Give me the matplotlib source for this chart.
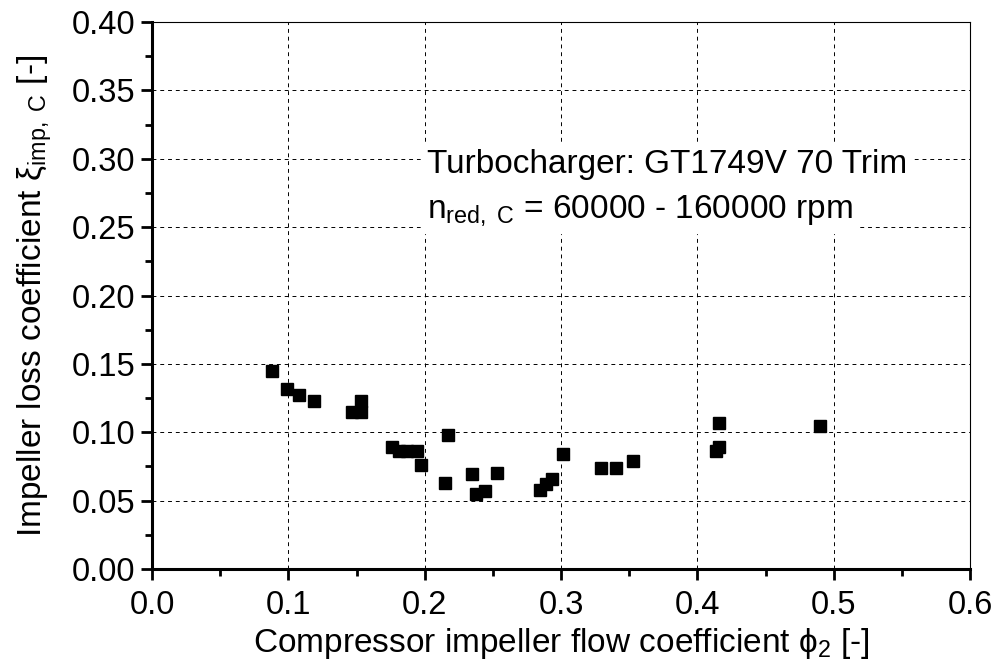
import matplotlib
matplotlib.use('Agg')
import matplotlib.pyplot as plt
from matplotlib.ticker import MultipleLocator

plt.rcParams['font.family'] = ['Liberation Sans', 'DejaVu Sans']
plt.rcParams['mathtext.fontset'] = 'custom'
plt.rcParams['mathtext.rm'] = 'Liberation Sans'
plt.rcParams['mathtext.it'] = 'Liberation Sans:italic'
plt.rcParams['mathtext.sf'] = 'Liberation Sans'

# flow coefficient phi_2 and impeller loss coefficient xi
phi2 = [0.088, 0.099, 0.108, 0.119, 0.1465, 0.1535, 0.1535,
        0.176, 0.181, 0.187, 0.194, 0.197, 0.217, 0.2145,
        0.2345, 0.2375, 0.2445, 0.253, 0.2845, 0.289, 0.293,
        0.3015, 0.3295, 0.3405, 0.3525, 0.4155, 0.4155, 0.4135, 0.490]
xi = [0.145, 0.132, 0.127, 0.123, 0.115, 0.1225, 0.1145,
      0.0895, 0.086, 0.086, 0.086, 0.076, 0.098, 0.063,
      0.0695, 0.0545, 0.057, 0.0705, 0.058, 0.0625, 0.066,
      0.084, 0.074, 0.074, 0.079, 0.1065, 0.0895, 0.0865, 0.1045]

x_ticks = [0.0, 0.1, 0.2, 0.3, 0.4, 0.5, 0.6]
y_ticks = [0.00, 0.05, 0.10, 0.15, 0.20, 0.25, 0.30, 0.35, 0.40]

fs = 23.5

fig = plt.figure(figsize=(9.94, 6.69), dpi=100)
ax = fig.add_axes([0.153, 0.1495, 0.823, 0.8175])

ax.plot(phi2, xi, 's', color='black', ms=8.5, mec='black', zorder=3)

ax.set_xlim(0, 0.6)
ax.set_ylim(0, 0.4)
ax.set_xticks(x_ticks)
ax.set_yticks(y_ticks)
ax.set_xticklabels(['%.1f' % v for v in x_ticks])
ax.set_yticklabels(['%.2f' % v for v in y_ticks])
ax.xaxis.set_minor_locator(MultipleLocator(0.05))
ax.yaxis.set_minor_locator(MultipleLocator(0.025))

ax.grid(True, which='major', color='black', linestyle=(0, (4, 4)), linewidth=0.7)
ax.set_axisbelow(True)

ax.spines['left'].set_linewidth(2.2)
ax.spines['bottom'].set_linewidth(2.2)
ax.spines['top'].set_linewidth(0.8)
ax.spines['right'].set_linewidth(0.8)

ax.tick_params(which='major', direction='out', length=8, width=2, labelsize=fs, pad=4)
ax.tick_params(axis='x', which='major', pad=7)
ax.tick_params(which='minor', direction='out', length=5, width=2)
ax.tick_params(top=False, right=False, which='both')

ax.set_xlabel('Compressor impeller flow coefficient ϕ$_2$ [-]', fontsize=fs + 0.5, labelpad=4)
ax.set_ylabel(r'Impeller loss coefficient ξ$_{\mathrm{imp,\ C}}$ [-]', fontsize=fs + 0.5, labelpad=13)

ax.text(0.2015, 0.2955, 'Turbocharger: GT1749V 70 Trim', fontsize=fs + 0.5, va='center', ha='left',
        backgroundcolor='white')
ax.text(0.2015, 0.2625, r'n$_{\mathrm{red,\ C}}$ = 60000 - 160000 rpm', fontsize=fs + 0.5, va='center', ha='left',
        backgroundcolor='white')

fig.savefig('out.png', dpi=100)
